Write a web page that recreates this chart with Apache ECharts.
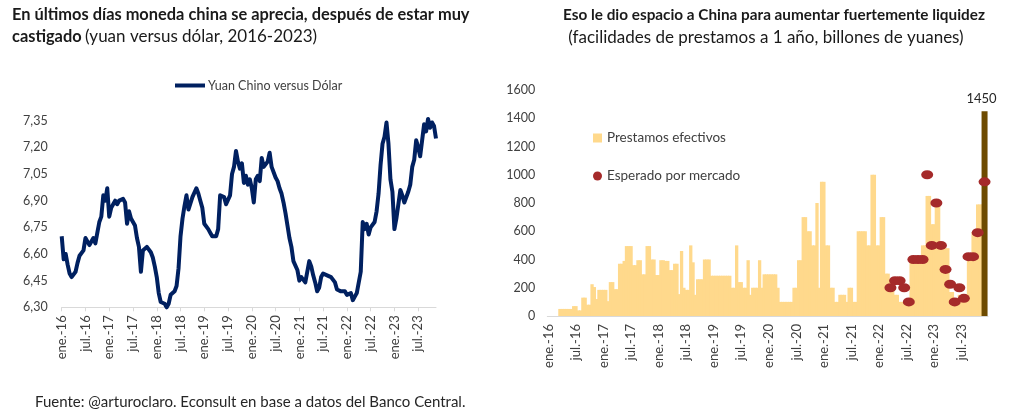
<!DOCTYPE html>
<html><head><meta charset="utf-8">
<script src="https://cdn.jsdelivr.net/npm/echarts@6/dist/echarts.min.js"></script>
<style>html,body{margin:0;padding:0;background:#fff}#c{width:1010px;height:419px}</style>
</head><body><div id="c"></div>
<script>
// ---------- DATA ----------
const monthAbbr = ['ene.','feb.','mar.','abr.','may.','jun.','jul.','ago.','sept.','oct.','nov.','dic.'];
const seriesNameYuan = 'Yuan Chino versus Dólar';
const seriesNameLoans = 'Prestamos efectivos';
const seriesNameExpected = 'Esperado por mercado';

// Yuan vs dollar, semi-monthly readings (1st & 16th), ene-2016 .. nov-2023
const yuanValues = [
6.70,6.57,6.60,6.54,6.49,6.47,6.48,6.50,6.55,6.59,6.60,6.62,
6.69,6.70,6.65,6.67,6.69,6.66,6.72,6.78,6.81,6.93,6.90,6.97,
6.81,6.86,6.86,6.90,6.88,6.90,6.91,6.91,6.89,6.77,6.84,6.80,
6.78,6.76,6.69,6.64,6.50,6.62,6.63,6.64,6.63,6.61,6.58,6.53,
6.47,6.38,6.33,6.33,6.32,6.30,6.32,6.37,6.38,6.39,6.42,6.52,
6.70,6.80,6.87,6.93,6.85,6.86,6.92,6.91,6.97,6.94,6.90,6.86,
6.77,6.76,6.74,6.72,6.70,6.71,6.70,6.74,6.93,6.94,6.92,6.88,
6.87,6.93,7.05,7.09,7.18,7.12,7.08,7.11,7.00,7.04,6.99,7.02,
6.97,6.89,7.02,7.04,7.01,7.14,7.09,7.08,7.12,7.17,7.09,7.08,
7.03,7.01,6.97,6.94,6.89,6.83,6.76,6.69,6.64,6.56,6.55,6.51,
6.45,6.47,6.48,6.44,6.50,6.56,6.53,6.48,6.44,6.39,6.41,6.47,
6.49,6.50,6.48,6.48,6.47,6.46,6.44,6.40,6.40,6.39,6.38,6.39,
6.37,6.36,6.38,6.34,6.36,6.38,6.39,6.50,6.78,6.74,6.77,6.71,
6.75,6.74,6.78,6.84,6.94,7.10,7.22,7.26,7.34,7.22,7.02,6.95,
6.74,6.80,6.80,6.96,6.93,6.89,6.90,6.95,6.99,7.09,7.13,7.24,
7.20,7.15,7.24,7.33,7.29,7.36,7.31,7.34,7.32,7.25
];

// 1-year lending facility, semi-monthly readings, ene-2016 .. dic-2023 (billones de yuanes)
const loanValues = [
0,0,0,0,0,50,50,50,50,50,50,70,
70,40,40,130,130,80,80,225,205,120,185,185,
185,185,105,240,240,190,190,370,370,390,495,495,
495,360,360,395,395,295,295,495,495,400,400,290,
290,395,395,390,390,325,325,370,370,155,460,200,
185,185,500,380,150,260,260,260,400,400,400,285,
285,285,285,285,285,285,285,285,200,200,500,240,
240,200,200,395,150,200,200,200,395,200,295,295,
295,295,295,295,200,100,100,100,100,100,100,200,
200,395,395,700,700,600,600,500,500,800,200,950,
950,500,500,200,200,100,100,150,150,150,100,200,
200,100,100,600,600,600,600,500,500,1000,1000,500,
500,700,700,300,300,250,250,150,150,100,100,100,
100,100,400,400,400,400,400,500,500,850,850,650,
650,780,780,480,480,480,480,170,170,125,125,150,
150,150,150,400,400,595,595,790,790,790,0,0
];

// Market expectation (dots)
const expectedDates = ['2022-03-16','2022-04-16','2022-05-16','2022-06-16','2022-07-16','2022-08-16',
  '2022-09-16','2022-10-16','2022-11-16','2022-12-16','2023-01-16','2023-02-16','2023-03-16',
  '2023-04-16','2023-05-16','2023-06-16','2023-07-16','2023-08-16','2023-09-16','2023-10-16','2023-12-01'];
const expectedValues = [200,250,250,200,100,400,400,400,1000,500,800,500,330,225,100,200,125,420,420,590,950];

// Latest operation (highlighted bar)
const lastOpDate = '2023-12-01';
const lastOpValue = 1450;

// ---------- helpers ----------
function semiMonthDates(n) {
  const out = [];
  for (let i = 0; i < n; i++) {
    const y = 2016 + Math.floor(i / 24);
    const m = Math.floor(i / 2) % 12 + 1;
    out.push(y + '-' + String(m).padStart(2, '0') + '-' + (i % 2 ? '16' : '01'));
  }
  return out;
}
const yuanDates = semiMonthDates(yuanValues.length);
const loanDates = semiMonthDates(loanValues.length);
function fmtDate(v) {
  const p = v.split('-');
  return monthAbbr[+p[1] - 1] + '-' + p[0].slice(2);
}
const everySix = (idx) => idx % 12 === 0;
const comma = (v) => v.toFixed(2).replace('.', ',');

let maxIdx = 0;
yuanValues.forEach((v, i) => { if (v > yuanValues[maxIdx]) maxIdx = i; });
const lastIdx = yuanValues.length - 1;
const yuanData = yuanValues.map((v, i) => {
  if (i === maxIdx) return { value: v, label: { show: true, position: 'top', distance: 12, offset: [4, 0], formatter: (p) => comma(p.value) } };
  if (i === lastIdx) return { value: v, label: { show: true, position: 'right', distance: 17, formatter: (p) => comma(p.value) } };
  return v;
});

const FONT = 'Lato';
const TXT = '#404040';
const BAR = '#FFD98C';

const chart = echarts.init(document.getElementById('c'), null, { renderer: 'canvas' });
chart.setOption({
  animation: false,
  backgroundColor: '#ffffff',
  textStyle: { fontFamily: FONT, color: TXT },
  graphic: [
    { type: 'text', left: 12, top: 7, style: {
        text: '{b|En últimos días moneda china se aprecia, después de estar muy}\n{b|castigado} {n|(yuan versus dólar, 2016-2023)}',
        rich: { b: { fontFamily: FONT, fontWeight: 'bold', fontSize: 16.4, fill: '#1a1a1a', lineHeight: 22 },
                n: { fontFamily: FONT, fontSize: 17, fill: '#1a1a1a', lineHeight: 22 } } } },
    { type: 'text', x: 774, y: 8, style: { text: 'Eso le dio espacio a China para aumentar fuertemente liquidez',
        align: 'center', fontFamily: FONT, fontWeight: 'bold', fontSize: 15.3, fill: '#1a1a1a' } },
    { type: 'text', x: 766, y: 29, style: { text: '(facilidades de prestamos a 1 año, billones de yuanes)',
        align: 'center', fontFamily: FONT, fontSize: 17, fill: '#1a1a1a' } },
    { type: 'text', left: 35, top: 395, style: { text: 'Fuente: @arturoclaro. Econsult en base a datos del Banco Central.',
        fontFamily: FONT, fontSize: 15, fill: '#262626' } }
  ],
  legend: [
    { data: [{ name: seriesNameYuan, icon: 'rect' }], left: 170, top: 74, itemWidth: 30, itemHeight: 4, itemGap: 4,
      textStyle: { fontFamily: FONT, fontSize: 12.5, color: TXT, padding: [0, 0, 0, -2] } },
    { data: [{ name: seriesNameLoans, icon: 'rect' }, { name: seriesNameExpected, icon: 'circle' }],
      orient: 'vertical', left: 588, top: 126, itemWidth: 9, itemHeight: 9, itemGap: 24,
      textStyle: { fontFamily: FONT, fontSize: 13.5, color: TXT } }
  ],
  grid: [
    { left: 61.7, right: 574, top: 120.7, bottom: 111.7, containLabel: false },
    { left: 547.3, right: 22, top: 90, bottom: 103, containLabel: false }
  ],
  xAxis: [
    { type: 'category', gridIndex: 0, data: yuanDates, boundaryGap: false,
      axisLine: { lineStyle: { color: '#d9d9d9', width: 1 } },
      axisTick: { interval: everySix, length: 4, lineStyle: { color: '#d9d9d9' } },
      axisLabel: { interval: everySix, rotate: 90, formatter: fmtDate, fontFamily: FONT, fontSize: 13, color: TXT, margin: 8 } },
    { type: 'category', gridIndex: 1, data: loanDates,
      axisLine: { lineStyle: { color: '#d9d9d9', width: 1 } },
      axisTick: { interval: everySix, length: 4, lineStyle: { color: '#d9d9d9' } },
      axisLabel: { interval: everySix, rotate: 90, formatter: fmtDate, fontFamily: FONT, fontSize: 13, color: TXT, margin: 8 } },
    { type: 'category', gridIndex: 1, data: loanDates, show: false }
  ],
  yAxis: [
    { type: 'value', gridIndex: 0, min: 6.30, max: 7.35, interval: 0.15,
      axisLine: { show: false }, axisTick: { show: false }, splitLine: { show: false },
      axisLabel: { formatter: comma, fontFamily: FONT, fontSize: 12.5, color: TXT, margin: 14 } },
    { type: 'value', gridIndex: 1, min: 0, max: 1600, interval: 200,
      axisLine: { show: false }, axisTick: { show: false }, splitLine: { show: false },
      axisLabel: { formatter: (v) => String(v), fontFamily: FONT, fontSize: 12.5, color: TXT, margin: 12 } }
  ],
  series: [
    { name: seriesNameYuan, type: 'line', xAxisIndex: 0, yAxisIndex: 0, data: yuanData,
      symbol: 'none', clip: false, lineStyle: { color: '#002060', width: 4, join: 'round' },
      itemStyle: { color: '#002060' },
      label: { fontFamily: FONT, fontSize: 13, color: '#262626' } },
    { name: seriesNameLoans, type: 'bar', xAxisIndex: 1, yAxisIndex: 1, data: loanValues,
      barWidth: 3.3,
      itemStyle: { color: BAR } },
    { name: 'ultimo', type: 'bar', xAxisIndex: 2, yAxisIndex: 1, data: [[lastOpDate, lastOpValue]],
      barWidth: 6, itemStyle: { color: '#6E4B00' }, z: 3,
      label: { show: true, position: 'top', distance: 6, offset: [-3, 0], fontFamily: FONT, fontSize: 13, color: '#262626' } },
    { name: seriesNameExpected, type: 'scatter', xAxisIndex: 1, yAxisIndex: 1,
      data: expectedDates.map((d, i) => [d, expectedValues[i]]),
      symbol: 'circle', symbolSize: [12, 9], itemStyle: { color: '#A52A2A', opacity: 1 }, z: 4 }
  ]
});
</script></body></html>
